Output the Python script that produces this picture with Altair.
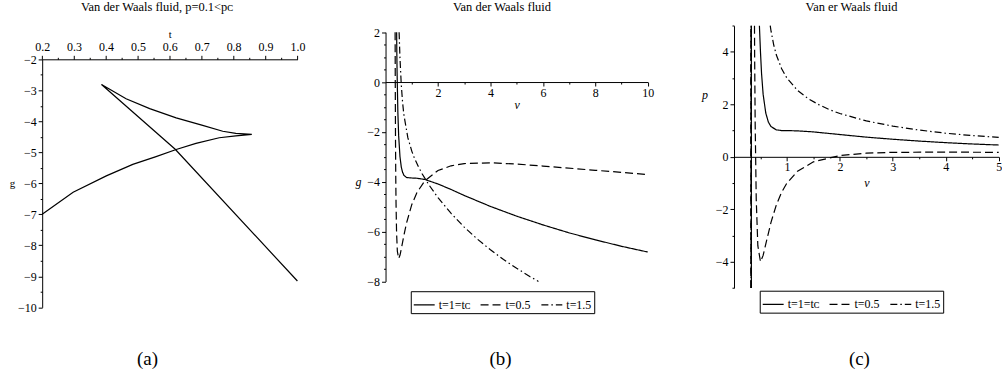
import altair as alt
import pandas as pd

SERIF = "Liberation Serif"
H = 389
W_A, W_B, W_C = 345, 345, 312

# ---------------- (a) g against t at p = 0.1 (swallowtail) ----------------
a_t = [0.200, 0.297, 0.401, 0.484, 0.557, 0.620, 0.682, 0.755, 0.807, 0.857,
       0.807, 0.766, 0.703, 0.620, 0.537, 0.463, 0.386,
       0.617, 1.000]
a_g = [-7.00, -6.29, -5.76, -5.39, -5.14, -4.91, -4.71, -4.53, -4.47, -4.42,
       -4.39, -4.32, -4.13, -3.89, -3.59, -3.27, -2.81,
       -4.90, -9.15]

# ---------------- (b) g against v ----------------
b_v_c = [0.423, 0.43, 0.44, 0.47, 0.50, 0.55, 0.60, 0.65, 0.70, 0.80, 1.0, 1.2,
         1.5, 2.0, 2.5, 3.0, 4.0, 5.0, 6.0, 7.0, 8.0, 9.0, 10.0]
b_g_c = [2.00, 1.21, 0.40, -1.22, -2.15, -2.99, -3.41, -3.62, -3.74, -3.83, -3.85, -3.86,
         -3.91, -4.09, -4.31, -4.55, -4.99, -5.38, -5.73, -6.05, -6.33, -6.59, -6.82]

b_v_lo = [0.365, 0.37, 0.38, 0.39, 0.40, 0.42, 0.45, 0.50, 0.55, 0.60, 0.70, 0.80,
          1.0, 1.2, 1.5, 2.0, 2.5, 3.0, 4.0, 5.0, 6.0, 8.0, 10.0]
b_g_lo = [2.00, 0.18, -2.31, -3.85, -4.85, -6.03, -6.79, -7.08, -6.95, -6.70, -6.15, -5.66,
          -4.92, -4.43, -3.96, -3.55, -3.36, -3.27, -3.24, -3.29, -3.37, -3.54, -3.71]

b_v_hi = [0.517, 0.55, 0.60, 0.65, 0.70, 0.85, 1.0, 1.1, 1.25, 1.4, 1.65, 2.0,
          2.5, 3.0, 3.5, 4.0, 4.5, 5.0, 5.5, 5.83]
b_g_hi = [2.00, 0.97, -0.11, -0.82, -1.32, -2.23, -2.77, -3.05, -3.39, -3.69, -4.12, -4.64,
          -5.27, -5.82, -6.30, -6.73, -7.12, -7.47, -7.80, -8.00]

# ---------------- (c) p against v ----------------
c_v_c = [0.48, 0.50, 0.52, 0.55, 0.60, 0.65, 0.70, 0.80, 0.90, 1.0, 1.2, 1.5,
         2.0, 2.5, 3.0, 3.5, 4.0, 4.5, 5.0]
c_p_c = [5.00, 4.00, 3.19, 2.39, 1.67, 1.32, 1.15, 1.03, 1.00, 1.00, 0.99, 0.95,
         0.85, 0.75, 0.67, 0.60, 0.54, 0.49, 0.45]

c_v_lo = [0.387, 0.39, 0.40, 0.42, 0.45, 0.50, 0.55, 0.60, 0.70, 0.80, 0.90, 1.0,
          1.2, 1.5, 2.0, 2.5, 3.0, 4.0, 5.0]
c_p_lo = [5.00, 3.81, 1.25, -1.62, -3.39, -4.00, -3.76, -3.33, -2.49, -1.83, -1.35, -1.00,
          -0.55, -0.19, 0.05, 0.14, 0.17, 0.18, 0.17]

c_v_hi = [0.684, 0.70, 0.75, 0.80, 0.90, 1.0, 1.2, 1.4, 1.6, 1.8, 2.0, 2.5,
          3.0, 3.5, 4.0, 4.5, 5.0]
c_p_hi = [5.00, 4.79, 4.27, 3.88, 3.36, 3.00, 2.53, 2.22, 1.99, 1.80, 1.65, 1.37,
          1.17, 1.02, 0.90, 0.81, 0.74]

# jump across the asymptote v = 1/3 (from -inf to +inf), one per isotherm
c_jump_v = [0.328, 0.318, 0.323]
c_jump_p = [-5.0, 5.0]

SERIES = ["t=1=tᴄ", "t=0.5", "t=1.5"]
DASHES = [[1, 0], [8, 4], [7, 3, 1.5, 3]]


def long_table(vs, ys, extra=None):
    rows = []
    for name, v_list, y_list in zip(SERIES, vs, ys):
        for i, (v, y) in enumerate(zip(v_list, y_list)):
            rows.append({"v": v, "y": y, "series": name, "seg": "main", "i": i})
    if extra:
        for name, (jv, jp) in zip(SERIES, extra):
            for i, p in enumerate(jp):
                rows.append({"v": jv, "y": p, "series": name, "seg": "jump", "i": i})
    return pd.DataFrame(rows)


def major_axis(orient, offset, values, fmt, **kw):
    return alt.Axis(orient=orient, offset=offset, values=values, format=fmt,
                    grid=False, domainColor="black", domainWidth=1,
                    tickColor="black", tickSize=4, tickWidth=1,
                    labelFont=SERIF, labelFontSize=12, labelColor="black",
                    labelFlush=False, labelOverlap=False,
                    titleFont=SERIF, titleFontWeight="normal",
                    titleColor="black", titleAngle=0, titleAlign="center",
                    titleBaseline="middle", **kw)


def minor_axis(orient, offset, values):
    return alt.Axis(orient=orient, offset=offset, values=values, labels=False,
                    domain=False, ticks=True, tickSize=2, tickColor="black",
                    grid=False, title=None)


def caption(text, x):
    return alt.Chart(pd.DataFrame({"lab": [text]})).mark_text(
        font=SERIF, fontSize=19, color="black", align="center", baseline="middle"
    ).encode(text="lab:N", x=alt.value(x), y=alt.value(355))


def heading(text, dx):
    return alt.TitleParams(text=text, font=SERIF, fontSize=12.5, fontWeight="normal",
                           color="black", anchor="middle", frame="group", dx=dx,
                           offset=-17.5, baseline="alphabetic")


def halves(lo, hi, step, skip):
    out, k = [], lo
    while k <= hi + 1e-9:
        if all(abs(k - s) > 1e-9 for s in skip):
            out.append(round(k, 3))
        k += step
    return out


# ---------------- panel (a) ----------------
dfa = pd.DataFrame({"t": a_t, "g": a_g, "i": list(range(len(a_t)))})
sxa = alt.Scale(domain=[0.2, 1.0], range=[42.3, 298.3], nice=False, zero=False)
sya = alt.Scale(domain=[-10, -2], range=[302.7, 53.9], nice=False, zero=False)
xa_major = [0.2, 0.3, 0.4, 0.5, 0.6, 0.7, 0.8, 0.9, 1.0]
ya_major = list(range(-10, -1))

line_a = alt.Chart(dfa).mark_line(color="black", strokeWidth=1.2).encode(
    x=alt.X("t:Q", scale=sxa, axis=major_axis("top", -53.9, xa_major, ".1f",
                                             labelPadding=2, title="t",
                                             titleFontSize=10.5, titleY=-25)),
    y=alt.Y("g:Q", scale=sya, axis=major_axis("left", -42.3, ya_major, "d",
                                             labelPadding=2, title="g", titleFontSize=11,
                                             titleX=-30.3, titleY=178)),
    order="i:Q",
)
minor_a = alt.Chart(dfa).mark_point(opacity=0).encode(
    x=alt.X("t:Q", scale=sxa, axis=minor_axis("top", -53.9, halves(0.2, 1.0, 0.05, xa_major))),
    y=alt.Y("g:Q", scale=sya, axis=minor_axis("left", -42.3, halves(-10, -2, 0.5, ya_major))),
)
panel_a = alt.layer(line_a, minor_a, caption("(a)", 148)).resolve_axis(
    x="independent", y="independent"
).properties(width=W_A, height=H, title=heading("Van der Waals fluid, p=0.1<pᴄ", -15))


def curve_panel(df, sx, sy, xlab, ylab, xmaj, ymaj, xmin, ymin, xoff, yoff,
                xtitle_y, ytitle_x, ytitle_y, lx, ly, cap, cap_x, width, head, dx):
    dash = alt.StrokeDash(
        "series:N",
        scale=alt.Scale(domain=SERIES, range=DASHES),
        legend=alt.Legend(orient="none", legendX=lx, legendY=ly, direction="horizontal",
                          columns=3, title=None, strokeColor="black", padding=2,
                          symbolType="stroke", symbolSize=440, symbolStrokeWidth=1.2,
                          symbolStrokeColor="black", labelFont=SERIF, labelFontSize=12,
                          labelColor="black", labelOffset=3, columnPadding=7,
                          rowPadding=0),
    )
    lines = alt.Chart(df).mark_line(color="black", strokeWidth=1.2).encode(
        x=alt.X("v:Q", scale=sx, axis=major_axis("bottom", yoff, xmaj, "d", title=xlab,
                                                 labelPadding=1, titleFontSize=12,
                                                 titleY=xtitle_y, titleFontStyle="italic")),
        y=alt.Y("y:Q", scale=sy, axis=major_axis("left", xoff, ymaj, "d", title=ylab,
                                                 labelPadding=2, titleFontSize=12,
                                                 titleX=ytitle_x, titleY=ytitle_y,
                                                 titleFontStyle="italic")),
        strokeDash=dash,
        detail="seg:N",
        order="i:Q",
    )
    minor = alt.Chart(df).mark_point(opacity=0).encode(
        x=alt.X("v:Q", scale=sx, axis=minor_axis("bottom", yoff, xmin)),
        y=alt.Y("y:Q", scale=sy, axis=minor_axis("left", xoff, ymin)),
    )
    return alt.layer(lines, minor, caption(cap, cap_x)).resolve_axis(
        x="independent", y="independent"
    ).properties(width=width, height=H, title=heading(head, dx))


# ---------------- panel (b) ----------------
dfb = long_table([b_v_c, b_v_lo, b_v_hi], [b_g_c, b_g_lo, b_g_hi])
panel_b = curve_panel(
    dfb,
    alt.Scale(domain=[0, 10], range=[41.7, 304.7], nice=False, zero=False),
    alt.Scale(domain=[-8, 2], range=[276.7, 26.7], nice=False, zero=False),
    "v", "g", [2, 4, 6, 8, 10], [-8, -6, -4, -2, 0, 2],
    [1, 3, 5, 7, 9], halves(-8, 2, 0.5, [-8, -6, -4, -2, 0, 2]),
    -41.7, 76.7 - H, 22.3, -27.7, 176,
    67, 286.5, "(b)", 157, W_B, "Van der Waals fluid", -14,
)

# ---------------- panel (c) ----------------
dfc = long_table([c_v_c, c_v_lo, c_v_hi], [c_p_c, c_p_lo, c_p_hi],
                 extra=[(c_jump_v[k], c_jump_p) for k in range(3)])
panel_c = curve_panel(
    dfc,
    alt.Scale(domain=[0, 5], range=[46.2, 311.7], nice=False, zero=False),
    alt.Scale(domain=[-5, 5], range=[283.2, 20.2], nice=False, zero=False),
    "v", "p", [1, 2, 3, 4, 5], [-4, -2, 0, 2, 4],
    halves(0.5, 5, 0.5, [1, 2, 3, 4, 5]), [-5, -3, -1, 1, 3, 5],
    -46.2, 151.7 - H, 25.3, -29.5, 89,
    72, 286, "(c)", 172, W_C, "Van er Waals fluid", 8,
)

chart = alt.hconcat(panel_a, panel_b, panel_c, spacing=0, bounds="flush").resolve_scale(
    x="independent", y="independent", strokeDash="independent"
).resolve_legend(strokeDash="independent").properties(
    padding={"left": 0, "top": 0, "right": 0, "bottom": 0}
).configure_view(stroke=None).configure_axis(
    labelFont=SERIF, titleFont=SERIF
).configure_legend(labelFont=SERIF).configure_title(font=SERIF)

chart.save("out.html", embed_options={"renderer": "svg", "actions": False})
